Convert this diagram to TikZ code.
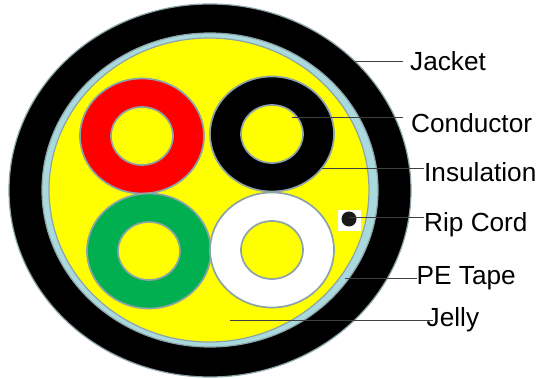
\documentclass[tikz,border=0pt]{standalone}
\usepackage{fontspec}
\setmainfont{Liberation Sans}
\definecolor{edge}{HTML}{8CA3A8}
\definecolor{tape}{HTML}{A9D9DD}
\definecolor{lead}{HTML}{404040}
\definecolor{cgreen}{HTML}{00B050}
\definecolor{jellyfill}{RGB}{255,255,0}
\definecolor{corered}{RGB}{255,0,0}
\tikzset{
  ring/.style={draw=edge,line width=1.7pt},
  leader/.style={draw=lead,line width=1pt},
  lab/.style={anchor=west,inner sep=0pt,font=\fontsize{26.2}{30}\selectfont,text=black}
}
\begin{document}
\begin{tikzpicture}[x=1pt,y=-1pt]
\useasboundingbox (0,0) rectangle (538,379);
\fill[white] (0,0) rectangle (538,379);
% jacket, tape, jelly
\fill[black,draw=edge,line width=1.2pt] (210,190.5) ellipse [x radius=201,y radius=186.5];
\fill[tape,draw=edge,line width=1.2pt] (210,190) ellipse [x radius=168,y radius=157];
\fill[jellyfill,draw=edge,line width=1.2pt] (209,190) ellipse [x radius=160,y radius=152];
% cores
\foreach \cx/\cy/\col in {142/136/corered,272/134/black,149/251/cgreen,272/250/white}{
  \fill[\col,ring] (\cx,\cy) ellipse [x radius=62,y radius=57.5];
  \fill[jellyfill,ring] (\cx,\cy) ellipse [x radius=31,y radius=29];
}
% rip cord
\fill[white] (338,210) rectangle (361,231);
\fill[black!90] (349,219) circle (7.5);
% labels
\node[lab] (jacket) at (410,61) {Jacket};
\node[lab] (conductor) at (411,123) {Conductor};
\node[lab] (insulation) at (424,172) {Insulation};
\node[lab] (ripcord) at (424,225) {Rip Cord};
\node[lab] (petape) at (416.5,278) {PE Tape};
\node[lab] (jelly) at (426.5,319.5) {Jelly};
% leader ends
\coordinate (ejacket) at (355,62);
\coordinate (econductor) at (292,118);
\coordinate (einsulation) at (322,169);
\coordinate (eripcord) at (350,218);
\coordinate (epetape) at (345,279);
\coordinate (ejelly) at (230,320);
\draw[leader,shorten >=7pt] (ejacket) -- (jacket.west |- ejacket);
\draw[leader,shorten >=8pt] (econductor) -- (conductor.west |- econductor);
\draw[leader] (einsulation) -- (insulation.west |- einsulation);
\draw[leader] (eripcord) -- (ripcord.west |- eripcord);
\draw[leader] (epetape) -- (petape.west |- epetape);
\draw[leader,shorten >=-6pt] (ejelly) -- (jelly.west |- ejelly);
\end{tikzpicture}
\end{document}
